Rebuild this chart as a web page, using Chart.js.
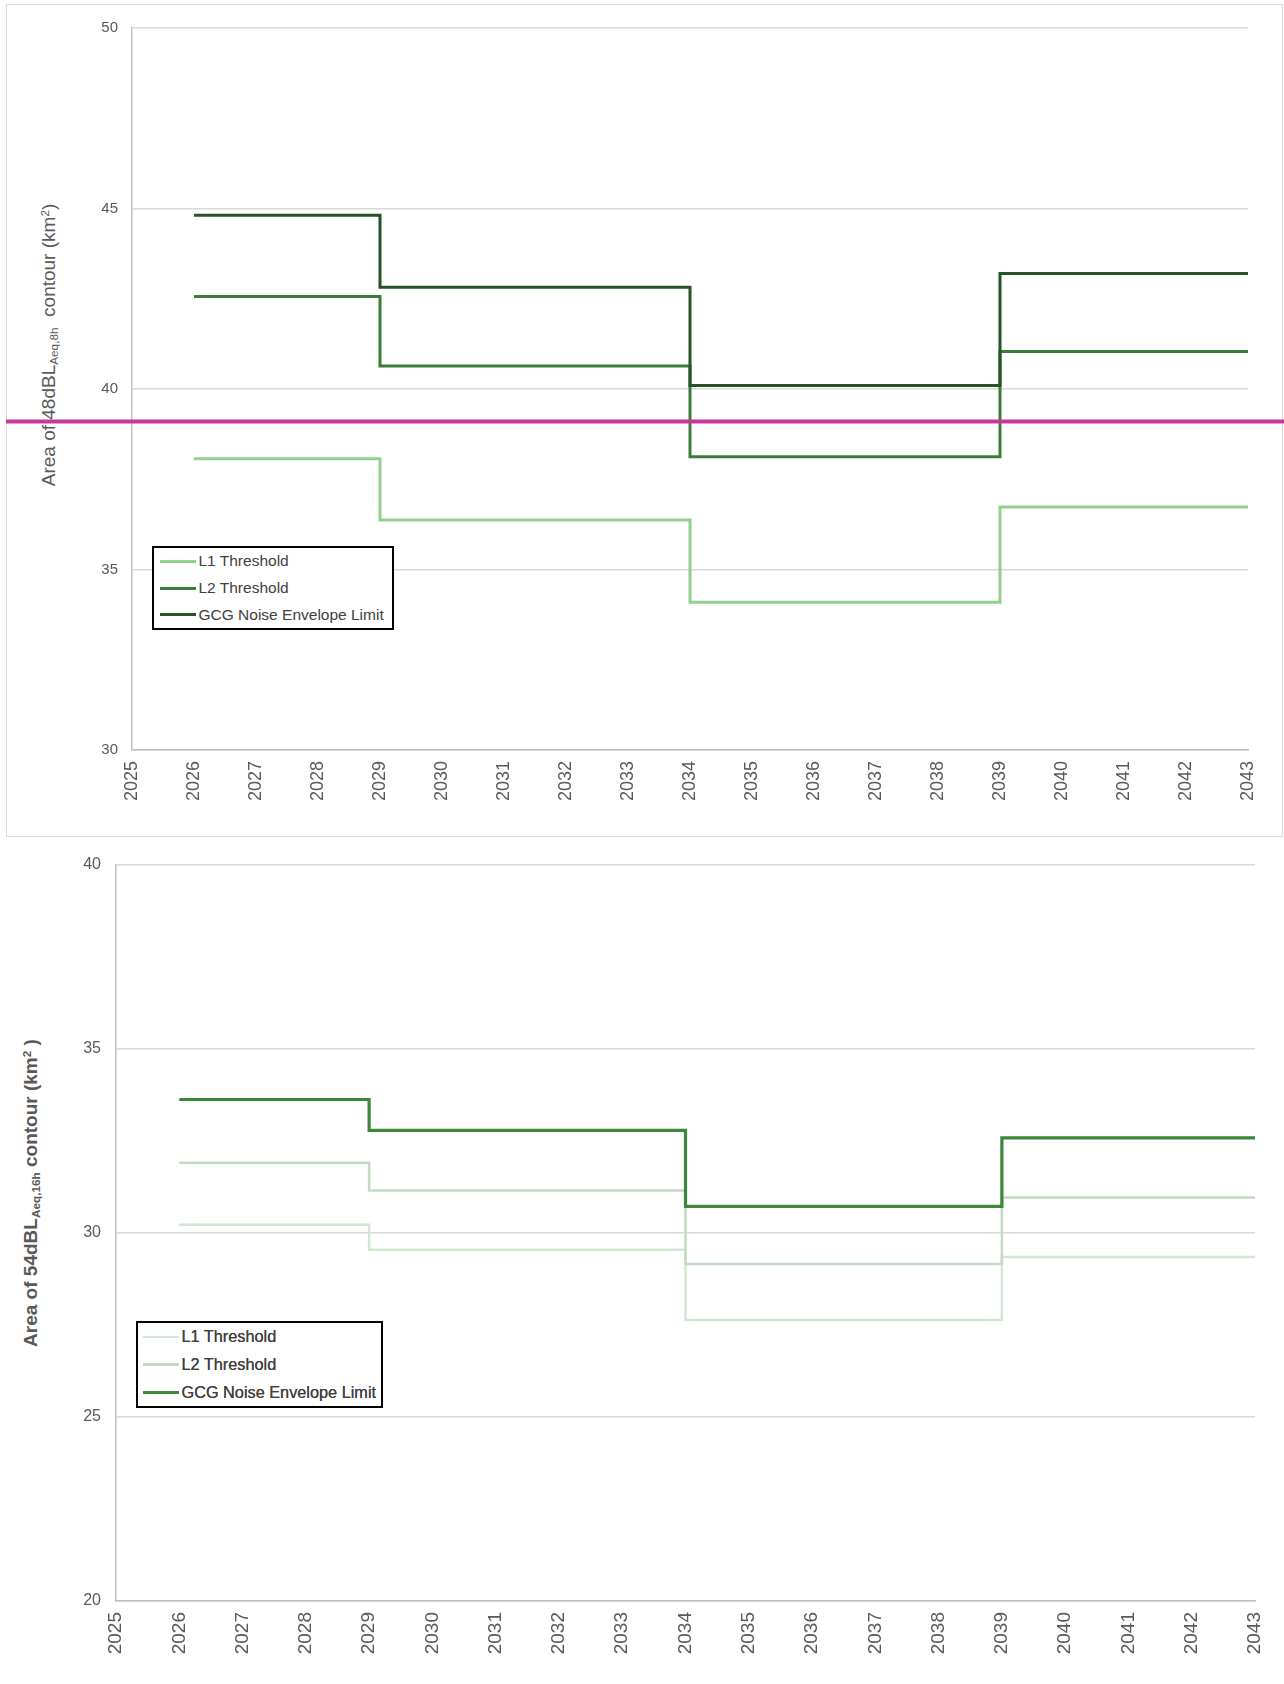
<!DOCTYPE html>
<html>
<head>
<meta charset="utf-8">
<script src="https://cdn.jsdelivr.net/npm/chart.js@4"></script>
<style>
  html, body { margin: 0; padding: 0; background: #fff; }
  body { width: 1284px; height: 1684px; position: relative; overflow: hidden; font-family: "Liberation Sans", Arial, sans-serif; }
  .frame { position: absolute; left: 6px; top: 4px; width: 1277px; height: 833px; border: 1.5px solid #d9d9d9; box-sizing: border-box; }
  canvas { position: absolute; left: 0; z-index: 2; }
  .ytitle { position: absolute; transform: translate(-50%, -50%) rotate(-90deg); white-space: nowrap; color: #595959; z-index: 1; }
  .ytitle sub { font-size: 62%; vertical-align: -0.25em; }
  .ytitle sup { font-size: 62%; vertical-align: 0.55em; }
  .legend { position: absolute; border: 2px solid #000; background: #fff; box-sizing: border-box; z-index: 3; }
  .legend .row { display: flex; align-items: center; color: #404040; white-space: nowrap; }
  .legend .swatch { display: inline-block; }
</style>
</head>
<body>
<div class="frame"></div>
<canvas id="night" width="1284" height="840" style="top:0"></canvas>
<canvas id="day" width="1284" height="844" style="top:840px"></canvas>
<div class="ytitle" id="nightTitle" style="left:49px; top:345px; font-size:19px;">Area of 48dBL<sub>Aeq,8h</sub>&nbsp; contour (km<sup>2</sup>)</div>
<div class="ytitle" id="dayTitle" style="left:31px; top:1193px; font-size:19px; font-weight:bold;">Area of 54dBL<sub>Aeq,16h</sub> contour (km<sup>2</sup> )</div>
<div class="legend" id="nightLegend" style="left:152px; top:546px; width:242px; height:84px;"></div>
<div class="legend" id="dayLegend" style="left:136px; top:1321px; width:247px; height:87px;"></div>
<script>
// ---- data ----
const years = [2026, 2029, 2034, 2039, 2043];
const seriesNames = ['L1 Threshold', 'L2 Threshold', 'GCG Noise Envelope Limit'];
const nightL1  = [38.07, 36.37, 34.09, 36.73, 36.73];
const nightL2  = [42.56, 40.64, 38.12, 41.04, 41.04];
const nightGCG = [44.81, 42.82, 40.10, 43.20, 43.20];
const dayL1  = [30.22, 29.54, 27.63, 29.34, 29.34];
const dayL2  = [31.90, 31.15, 29.15, 30.96, 30.96];
const dayGCG = [33.62, 32.78, 30.72, 32.58, 32.58];
const xRange = [2025, 2043];
const nightYRange = [30, 50];
const dayYRange = [20, 40];
const yStep = 5;
const referenceLevel = 39.1;

// ---- styles ----
const nightColors = ['#93cf8e', '#3b7c37', '#255325'];
const dayColors = ['#d3e6d3', '#c2dbc2', '#3b883b'];
const nightWidths = [3, 3, 3];
const dayWidths = [2.5, 2.5, 3.2];

function pts(arr) { return years.map((x, i) => ({ x: x, y: arr[i] })); }

function makeDatasets(series, colors, widths) {
  return series.map((arr, i) => ({
    label: seriesNames[i],
    data: pts(arr),
    borderColor: colors[i],
    backgroundColor: colors[i],
    borderWidth: widths[i],
    stepped: true,
    pointRadius: 0,
    fill: false,
    borderCapStyle: 'butt',
    borderJoinStyle: 'miter',
    order: series.length - 1 - i
  }));
}

const refLinePlugin = {
  id: 'refLine',
  afterDatasetsDraw(chart) {
    const y = chart.scales.y.getPixelForValue(referenceLevel);
    const ctx = chart.ctx;
    ctx.save();
    ctx.strokeStyle = '#c9379a';
    ctx.lineWidth = 4;
    ctx.beginPath();
    ctx.moveTo(6, y);
    ctx.lineTo(chart.width, y);
    ctx.stroke();
    ctx.restore();
  }
};

function makeChart(id, series, colors, widths, yRange, cfg) {
  return new Chart(document.getElementById(id), {
    type: 'line',
    data: { datasets: makeDatasets(series, colors, widths) },
    options: {
      responsive: false,
      animation: false,
      layout: { padding: cfg.padding },
      plugins: { legend: { display: false }, tooltip: { enabled: false } },
      scales: {
        x: {
          type: 'linear',
          min: xRange[0], max: xRange[1],
          grid: { display: false, drawTicks: false },
          border: { display: true, color: '#bfbfbf', width: 1.5 },
          ticks: {
            stepSize: 1, autoSkip: false, minRotation: 90, maxRotation: 90,
            padding: cfg.xPad, color: cfg.tickColor,
            font: { family: 'Liberation Sans, Arial', size: cfg.xFont },
            callback: v => String(v)
          },
          afterFit: s => { s.height = cfg.xHeight; s.paddingLeft = 0; s.paddingRight = 0; }
        },
        y: {
          min: yRange[0], max: yRange[1],
          grid: { color: '#d9d9d9', lineWidth: 1.5, drawTicks: false },
          border: { display: true, color: '#bfbfbf', width: 1.5 },
          ticks: {
            stepSize: yStep, padding: cfg.yPad, color: cfg.tickColor,
            font: { family: 'Liberation Sans, Arial', size: cfg.yFont }
          },
          afterFit: s => { s.width = cfg.yWidth; }
        }
      }
    },
    plugins: cfg.plugins || []
  });
}

makeChart('night', [nightL1, nightL2, nightGCG], nightColors, nightWidths, nightYRange, {
  padding: { left: 0, top: 28, right: 36, bottom: 0 },
  xHeight: 90, yWidth: 132, xPad: 11, yPad: 14, xFont: 18, yFont: 15,
  tickColor: '#595959', plugins: [refLinePlugin]
});

makeChart('day', [dayL1, dayL2, dayGCG], dayColors, dayWidths, dayYRange, {
  padding: { left: 0, top: 22, right: 29, bottom: 0 },
  xHeight: 83, yWidth: 116, xPad: 11, yPad: 15, xFont: 19, yFont: 16,
  tickColor: '#595959'
});

// ---- HTML legends built from the series ----
function buildLegend(id, colors, widths, rowH, sampleLeft, sampleW, fontSize, bold) {
  const box = document.getElementById(id);
  seriesNames.forEach((name, i) => {
    const row = document.createElement('div');
    row.className = 'row';
    row.style.height = rowH + 'px';
    row.style.fontSize = fontSize + 'px';
    if (bold) row.style.textShadow = '0 0 0.4px #404040';
    const sw = document.createElement('span');
    sw.className = 'swatch';
    sw.style.marginLeft = sampleLeft + 'px';
    sw.style.width = sampleW + 'px';
    sw.style.height = widths[i] + 'px';
    sw.style.background = colors[i];
    sw.style.marginRight = '3px';
    const t = document.createElement('span');
    t.textContent = name;
    row.appendChild(sw);
    row.appendChild(t);
    box.appendChild(row);
  });
}
buildLegend('nightLegend', nightColors, nightWidths, 26.7, 5.5, 36, 15.5, false);
buildLegend('dayLegend', dayColors, dayWidths, 27.7, 4.5, 36, 16.3, true);
</script>
</body>
</html>
